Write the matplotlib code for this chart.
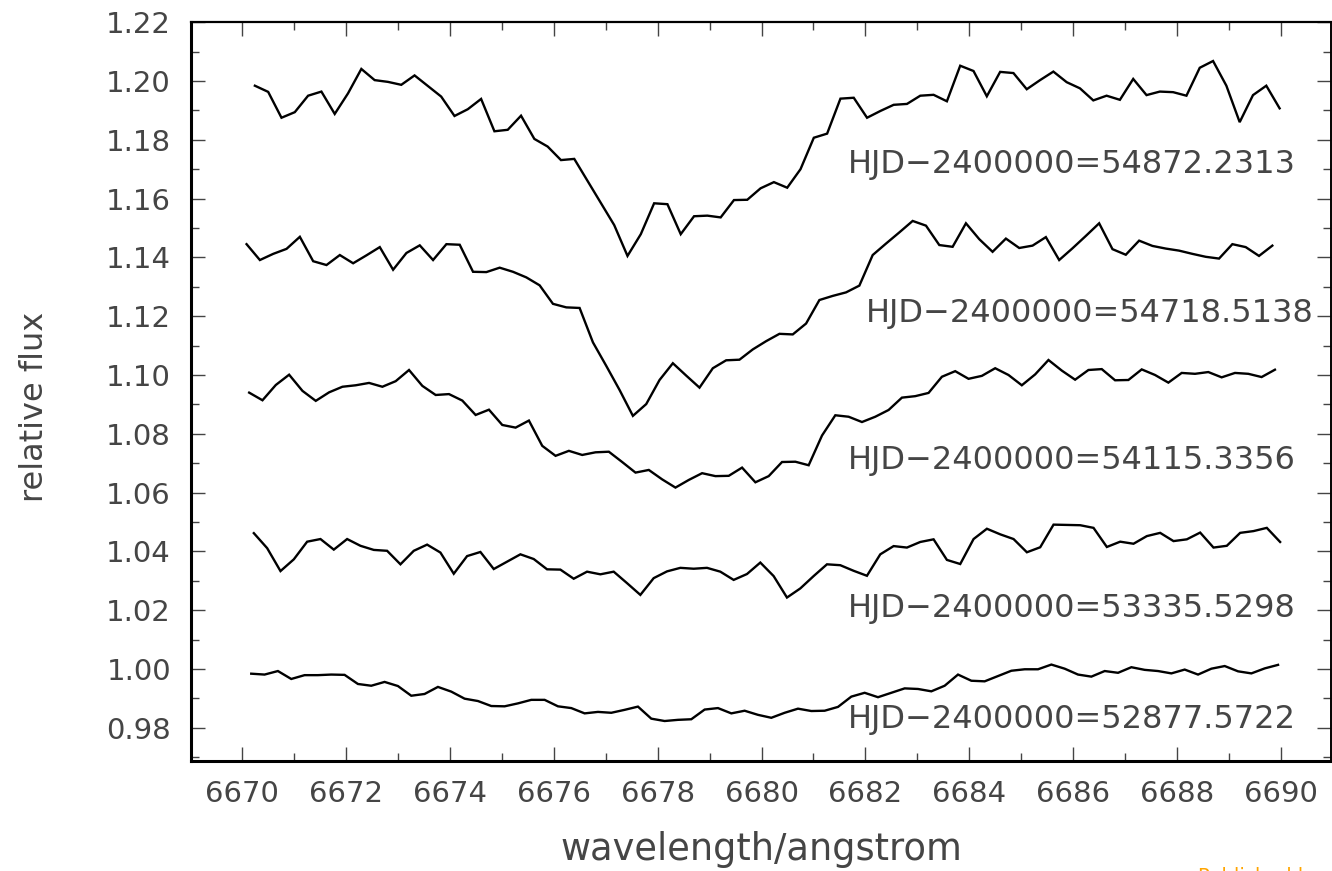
import matplotlib
matplotlib.use("Agg")
import matplotlib.pyplot as plt
from matplotlib.ticker import MultipleLocator, FormatStrFormatter
import numpy as np

# --- data (relative flux per spectrum) ---
hjd_labels = ["54872.2313", "54718.5138", "54115.3356", "53335.5298", "52877.5722"]

# first / last wavelength of each spectrum (uniform sampling, 78 pixels)
wave_start = [6670.24, 6670.08, 6670.13, 6670.22, 6670.17]
wave_end = [6689.98, 6689.84, 6689.89, 6689.99, 6689.95]

flux_54872 = [
    1.1984, 1.1963, 1.1875, 1.1894, 1.1950, 1.1964, 1.1888, 1.1958, 1.2041, 1.2003,
    1.1997, 1.1987, 1.2019, 1.1983, 1.1947, 1.1881, 1.1904, 1.1939, 1.1829, 1.1834,
    1.1882, 1.1803, 1.1777, 1.1731, 1.1735, 1.1660, 1.1585, 1.1510, 1.1405, 1.1479,
    1.1584, 1.1581, 1.1479, 1.1540, 1.1542, 1.1536, 1.1595, 1.1596, 1.1635, 1.1656,
    1.1637, 1.1700, 1.1807, 1.1821, 1.1940, 1.1943, 1.1875, 1.1898, 1.1919, 1.1922,
    1.1950, 1.1953, 1.1931, 1.2052, 1.2034, 1.1948, 1.2031, 1.2027, 1.1972, 1.2003,
    1.2032, 1.1996, 1.1975, 1.1934, 1.1950, 1.1936, 1.2007, 1.1952, 1.1964, 1.1962,
    1.1950, 1.2045, 1.2068, 1.1984, 1.1860, 1.1952, 1.1984, 1.1907,
]
flux_54718 = [
    1.1445, 1.1391, 1.1412, 1.1429, 1.1470, 1.1387, 1.1374, 1.1408, 1.1380, 1.1407,
    1.1435, 1.1358, 1.1415, 1.1441, 1.1391, 1.1445, 1.1443, 1.1351, 1.1350, 1.1365,
    1.1351, 1.1332, 1.1305, 1.1242, 1.1230, 1.1228, 1.1111, 1.1031, 1.0949, 1.0861,
    1.0901, 1.0983, 1.1040, 1.0998, 1.0957, 1.1023, 1.1050, 1.1052, 1.1087, 1.1115,
    1.1140, 1.1138, 1.1175, 1.1255, 1.1269, 1.1281, 1.1304, 1.1408, 1.1447, 1.1485,
    1.1524, 1.1508, 1.1442, 1.1436, 1.1516, 1.1462, 1.1419, 1.1464, 1.1432, 1.1440,
    1.1469, 1.1391, 1.1431, 1.1473, 1.1516, 1.1428, 1.1409, 1.1457, 1.1439, 1.1430,
    1.1423, 1.1412, 1.1402, 1.1396, 1.1445, 1.1435, 1.1405, 1.1440,
]
flux_54115 = [
    1.0940, 1.0914, 1.0966, 1.1001, 1.0946, 1.0912, 1.0941, 1.0960, 1.0965, 1.0973,
    1.0960, 1.0979, 1.1017, 1.0963, 1.0932, 1.0935, 1.0913, 1.0864, 1.0882, 1.0830,
    1.0821, 1.0845, 1.0759, 1.0725, 1.0742, 1.0728, 1.0737, 1.0739, 1.0704, 1.0668,
    1.0677, 1.0645, 1.0617, 1.0643, 1.0666, 1.0656, 1.0657, 1.0685, 1.0635, 1.0656,
    1.0704, 1.0705, 1.0693, 1.0794, 1.0863, 1.0858, 1.0840, 1.0858, 1.0881, 1.0923,
    1.0928, 1.0939, 1.0994, 1.1013, 1.0987, 1.0997, 1.1023, 1.1000, 1.0965, 1.1002,
    1.1051, 1.1015, 1.0984, 1.1017, 1.1020, 1.0982, 1.0983, 1.1019, 1.1000, 1.0974,
    1.1007, 1.1004, 1.1010, 1.0992, 1.1007, 1.1004, 1.0993, 1.1018,
]
flux_53335 = [
    1.0462, 1.0411, 1.0333, 1.0373, 1.0433, 1.0442, 1.0406, 1.0442, 1.0419, 1.0405,
    1.0402, 1.0356, 1.0402, 1.0423, 1.0396, 1.0324, 1.0384, 1.0398, 1.0340, 1.0365,
    1.0390, 1.0374, 1.0339, 1.0338, 1.0307, 1.0331, 1.0322, 1.0331, 1.0292, 1.0252,
    1.0309, 1.0332, 1.0344, 1.0341, 1.0344, 1.0331, 1.0303, 1.0323, 1.0362, 1.0316,
    1.0243, 1.0274, 1.0316, 1.0356, 1.0353, 1.0334, 1.0317, 1.0390, 1.0418, 1.0413,
    1.0432, 1.0441, 1.0371, 1.0357, 1.0442, 1.0477, 1.0458, 1.0442, 1.0397, 1.0414,
    1.0491, 1.0490, 1.0489, 1.0480, 1.0415, 1.0433, 1.0426, 1.0452, 1.0463, 1.0435,
    1.0441, 1.0464, 1.0413, 1.0419, 1.0463, 1.0469, 1.0480, 1.0432,
]
flux_52877 = [
    0.9984, 0.9981, 0.9993, 0.9966, 0.9979, 0.9979, 0.9981, 0.9980, 0.9949, 0.9943,
    0.9956, 0.9942, 0.9909, 0.9915, 0.9939, 0.9923, 0.9899, 0.9891, 0.9874, 0.9873,
    0.9883, 0.9895, 0.9895, 0.9873, 0.9867, 0.9849, 0.9854, 0.9851, 0.9861, 0.9872,
    0.9831, 0.9823, 0.9827, 0.9829, 0.9862, 0.9867, 0.9849, 0.9858, 0.9844, 0.9834,
    0.9851, 0.9865, 0.9857, 0.9858, 0.9871, 0.9906, 0.9919, 0.9904, 0.9919, 0.9934,
    0.9932, 0.9924, 0.9943, 0.9981, 0.9960, 0.9958, 0.9976, 0.9994, 0.9999, 0.9999,
    1.0015, 1.0001, 0.9981, 0.9974, 0.9993, 0.9987, 1.0006, 0.9997, 0.9993, 0.9985,
    0.9998, 0.9981, 1.0001, 1.0010, 0.9992, 0.9985, 1.0002, 1.0014,
]
spectra = [flux_54872, flux_54718, flux_54115, flux_53335, flux_52877]

# label anchor (left edge, baseline) for each HJD annotation
label_x = [6681.66, 6682.01, 6681.66, 6681.66, 6681.66]
label_y = [1.1686, 1.1181, 1.0680, 1.0176, 0.9798]

# --- figure ---
W, H = 1332, 871
fig = plt.figure(figsize=(W / 100, H / 100), dpi=100)
ax = fig.add_axes([190.5 / W, 1 - 761 / H, (1331 - 190.5) / W, (761 - 22.2) / H])

FONT = {"family": ["DejaVu Sans"]}
txt_col = "#454545"

for flux, w0, w1 in zip(spectra, wave_start, wave_end):
    wave = np.linspace(w0, w1, len(flux))
    ax.plot(wave, flux, color="black", lw=1.7, solid_joinstyle="miter")

for hjd, lx, ly in zip(hjd_labels, label_x, label_y):
    ax.text(lx, ly, "HJD\u22122400000=" + hjd, ha="left", va="baseline",
            fontsize=23, color=txt_col, fontdict=FONT)

ax.set_xlim(6669.0, 6690.97)
ax.set_ylim(0.9687, 1.22)

ax.xaxis.set_major_locator(MultipleLocator(2))
ax.xaxis.set_minor_locator(MultipleLocator(1))
ax.yaxis.set_major_locator(MultipleLocator(0.02))
ax.yaxis.set_minor_locator(MultipleLocator(0.01))
ax.yaxis.set_major_formatter(FormatStrFormatter("%.2f"))
ax.xaxis.set_major_formatter(FormatStrFormatter("%d"))

ax.tick_params(which="both", direction="in", top=True, right=True,
               color="#444444", width=1.0)
ax.tick_params(which="major", length=10, pad=14, labelsize=21, labelcolor=txt_col)
ax.tick_params(which="minor", length=5.5)
for lab in ax.get_xticklabels() + ax.get_yticklabels():
    lab.set_family(FONT["family"])

for side, lw in [("left", 2.2), ("bottom", 2.2), ("top", 1.6), ("right", 1.4)]:
    ax.spines[side].set_linewidth(lw)
    ax.spines[side].set_color("black")

fig.text(35 / W, 1 - 407 / H, "relative flux", rotation=90, ha="center",
         va="center", fontsize=23, color=txt_col, fontdict=FONT)
fig.text(761 / W, 1 - 849 / H, "wavelength/angstrom", ha="center",
         va="center", fontsize=26.5, color=txt_col, fontdict=FONT)

# cut-off watermark at the bottom edge, as in the reference
fig.text(1198 / W, 1 - 867 / H, "Published by", ha="left", va="top",
         fontsize=14, color="#FFA500", fontdict=FONT)

fig.savefig("out.png", dpi=100)
